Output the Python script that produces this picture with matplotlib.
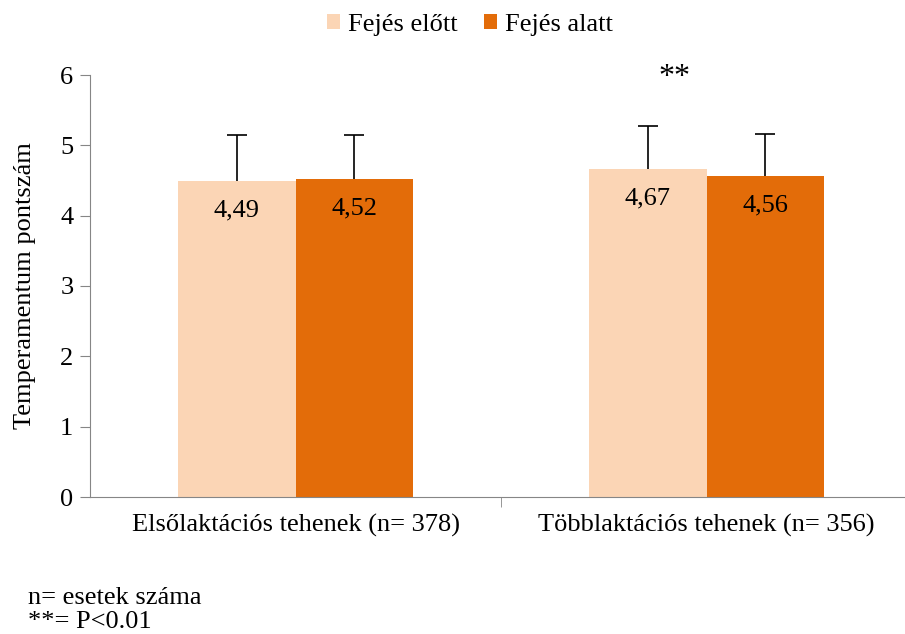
import numpy as np
import matplotlib.pyplot as plt

plt.rcParams['font.family'] = ['Liberation Serif', 'DejaVu Serif']

groups = ['Elsőlaktációs tehenek (n= 378)', 'Többlaktációs tehenek (n= 356)']
series = ['Fejés előtt', 'Fejés alatt']
before = [4.49, 4.67]
during = [4.52, 4.56]
before_sd = [0.65, 0.61]
during_sd = [0.63, 0.60]
colors = ['#FBD5B5', '#E36C09']

fig = plt.figure(figsize=(9.05, 6.34), dpi=100)
ax = fig.add_axes([90 / 905, 137 / 634, 815 / 905, 422 / 634])

x = np.arange(len(groups))
w = 0.285
b1 = ax.bar(x - w / 2, before, w, color=colors[0], label=series[0])
b2 = ax.bar(x + w / 2, during, w, color=colors[1], label=series[1])

# upper error bars only, cap at the top end
for pos, vals, sd in [(x - w / 2, before, before_sd), (x + w / 2, during, during_sd)]:
    tops = np.array(vals) + np.array(sd)
    ax.vlines(pos, vals, tops, color='black', lw=1.2, zorder=3)
    ax.plot(pos, tops, ls='none', marker='_', ms=14, mew=1.2, color='black', zorder=3)

for bars, vals in [(b1, before), (b2, during)]:
    for bar, v in zip(bars, vals):
        ax.text(bar.get_x() + bar.get_width() / 2, v - 0.42,
                f'{v:.2f}'.replace('.', ','), ha='center', va='center', fontsize=19)

ax.text(1 - 0.077, 5.96, '**', ha='center', va='center', fontsize=23)

ax.set_xlim(-0.5, -0.5 + 815 / 411)
ax.set_ylim(0, 6)
ax.set_yticks(range(7))
ax.set_xticks(x)
ax.set_xticklabels(groups)
ax.set_xticks([0.5], minor=True)
ax.tick_params(axis='x', which='major', length=0, labelsize=19, pad=12)
ax.tick_params(axis='x', which='minor', length=7, color='#868686')
ax.tick_params(axis='y', labelsize=19, length=7, color='#868686', pad=5)
ax.set_ylabel('Temperamentum pontszám', fontsize=19, labelpad=17)
for s in ['top', 'right']:
    ax.spines[s].set_visible(False)
for s in ['left', 'bottom']:
    ax.spines[s].set_color('#868686')

fig.legend(loc='upper center', bbox_to_anchor=(0.519, 1.015), ncol=2, frameon=False,
           fontsize=19, handlelength=0.5, handleheight=0.5, handletextpad=0.3,
           columnspacing=1.0)

fig.text(28 / 905, 1 - 598 / 634, 'n= esetek száma', fontsize=19, va='center')
fig.text(28 / 905, 1 - 622 / 634, '**= P<0.01', fontsize=19, va='center')

fig.savefig('out.png', dpi=100)
